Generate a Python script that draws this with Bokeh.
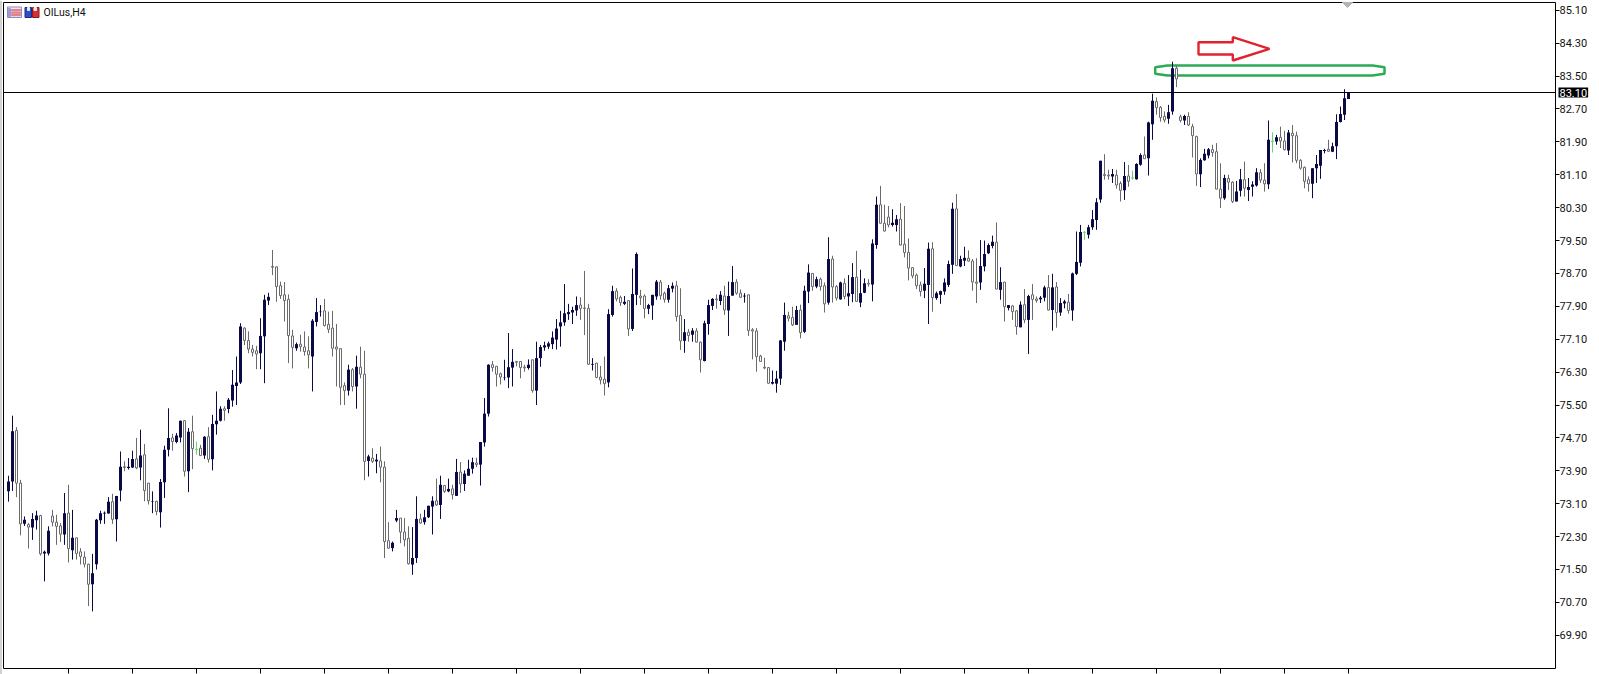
from bokeh.plotting import figure
from bokeh.embed import file_html
from bokeh.resources import INLINE
from bokeh.models import ColumnDataSource, Range1d, FixedTicker, Label, NumeralTickFormatter

symbol_label = "OILus,H4"
last_price = 83.10
price_ticks = [85.10, 84.30, 83.50, 82.70, 81.90, 81.10, 80.30, 79.50, 78.70, 77.90, 77.10, 76.30,
               75.50, 74.70, 73.90, 73.10, 72.30, 71.50, 70.70, 69.90]

opens = [
73.40,73.64,74.88,73.60,72.61,72.59,72.52,72.70,72.81,71.89,71.89,72.80,72.65,72.56,72.35,72.87,
71.97,72.27,71.93,71.80,71.63,71.14,71.63,72.70,72.86,72.86,73.15,72.72,73.42,74.00,73.97,73.98,
74.19,73.98,74.29,73.60,73.15,73.16,72.89,73.62,74.41,74.70,74.60,74.71,75.12,73.89,74.85,74.42,
74.45,74.27,74.73,74.18,75.03,75.12,75.41,75.40,75.61,75.96,76.05,77.37,77.07,76.86,76.82,76.76,
77.17,78.04,78.87,78.86,78.40,78.18,78.07,77.18,76.88,76.98,76.91,76.82,76.68,77.52,77.76,77.79,
77.46,77.37,76.91,76.87,75.97,75.85,76.36,75.95,76.42,76.25,74.14,74.21,74.13,74.14,73.99,72.20,
72.02,72.69,72.75,72.41,72.26,71.62,71.78,72.73,72.65,72.77,73.03,73.17,73.07,73.54,73.40,73.46,
73.29,73.87,73.58,73.78,73.95,74.09,74.05,74.59,75.29,76.48,76.44,76.26,76.17,76.17,76.41,76.56,
76.56,76.42,76.40,76.60,75.85,76.64,76.90,76.92,76.98,77.09,77.41,77.51,77.71,77.75,77.80,77.93,
77.86,77.85,76.48,76.52,76.18,76.13,76.05,77.69,78.27,78.12,77.96,78.04,77.35,78.18,78.15,78.15,
77.84,77.92,78.14,78.49,78.22,78.06,78.33,78.40,77.68,77.06,77.27,77.21,77.30,77.03,76.57,77.47,
77.91,78.08,78.03,78.15,77.80,78.16,78.49,78.22,78.14,78.18,77.33,77.30,76.69,76.42,76.41,76.02,
76.02,76.14,77.04,77.67,77.63,77.45,77.81,77.28,78.26,78.70,78.38,78.56,78.40,77.99,79.05,78.38,
78.07,78.46,78.14,78.20,78.61,77.99,78.23,78.46,78.43,79.39,80.37,79.92,80.07,79.88,79.88,80.02,
79.41,79.21,78.84,78.66,78.42,78.28,78.42,79.30,78.10,78.18,78.26,78.42,78.91,80.27,78.87,79.01,
79.07,79.00,78.49,78.48,78.87,79.19,79.37,79.46,78.30,78.49,77.86,77.91,77.79,77.39,77.94,77.57,
78.18,78.08,78.07,78.11,78.36,77.81,78.37,77.75,77.97,78.00,77.80,78.69,78.96,79.70,79.64,79.82,
80.00,80.50,81.11,81.09,81.06,81.09,80.89,80.72,81.07,81.02,80.99,81.34,81.58,81.50,82.33,82.88,
82.74,82.52,82.46,82.64,83.69,82.51,82.42,82.52,82.27,82.03,81.11,81.45,81.57,81.71,81.66,80.75,
80.53,81.01,80.92,80.45,80.71,80.98,80.73,80.81,80.84,81.15,80.97,80.87,81.91,81.91,82.01,81.92,
81.69,82.11,82.05,81.45,81.28,80.98,80.88,81.26,81.32,81.68,81.72,81.66,81.79,82.38,82.56,82.94]

highs = [
73.78,75.24,74.96,73.68,72.79,72.63,72.87,72.93,72.83,71.96,72.55,72.95,72.83,72.63,73.36,73.56,
72.95,72.27,72.02,71.94,71.64,71.88,72.73,72.93,72.91,73.26,73.34,73.29,74.37,74.13,74.21,74.39,
74.70,74.90,74.55,73.60,73.40,73.17,73.70,74.51,75.42,74.80,74.82,75.12,75.12,74.94,75.24,74.61,
74.53,74.74,74.96,75.26,75.83,75.47,75.47,75.67,76.35,76.68,77.49,77.39,77.29,76.96,76.94,77.61,
78.18,78.23,79.27,78.87,78.50,78.49,78.19,77.33,77.02,77.21,77.29,77.17,77.59,78.10,77.93,78.08,
77.77,77.79,77.47,76.88,76.05,76.48,76.40,76.70,76.92,76.82,74.29,74.45,74.31,74.49,74.13,72.65,
72.18,72.95,72.75,72.75,72.55,72.53,73.28,72.86,72.95,73.05,73.28,73.71,73.78,73.56,73.71,73.56,
74.19,74.11,73.91,74.17,74.22,74.22,74.60,75.67,76.49,76.57,76.45,76.29,76.60,77.25,76.86,76.57,
76.57,76.48,76.61,76.60,77.04,76.96,77.04,77.04,77.29,77.59,77.79,78.44,77.96,77.89,78.14,78.12,
78.76,77.96,76.64,76.52,76.45,76.68,77.83,78.40,78.34,78.16,78.15,78.04,78.82,79.21,78.30,78.19,
77.96,78.18,78.54,78.54,78.26,78.42,78.48,78.52,78.34,77.59,77.35,77.37,77.37,77.04,77.55,78.06,
78.10,78.19,78.27,78.40,78.50,78.88,78.56,78.31,78.22,78.18,77.37,77.37,76.72,76.65,76.42,76.34,
76.33,77.08,77.99,77.77,77.89,77.91,77.94,78.40,78.92,78.70,78.62,78.60,78.48,79.58,79.13,78.42,
78.50,78.58,78.66,78.95,79.25,78.79,78.58,78.56,79.53,80.57,80.83,80.37,80.34,80.26,80.12,80.41,
80.34,79.55,78.85,78.70,78.50,78.83,79.45,79.46,78.26,78.28,78.58,79.01,80.42,80.63,79.13,79.35,
79.26,79.05,79.07,79.51,79.50,79.43,79.62,79.94,78.85,78.49,77.93,77.93,77.81,78.02,78.32,78.18,
78.44,78.14,78.15,78.40,78.66,78.69,78.49,78.10,78.06,78.20,78.72,79.72,79.88,79.73,79.88,80.24,
80.53,81.44,81.60,81.22,81.24,81.22,80.94,81.41,81.34,81.20,81.38,81.62,82.03,82.39,83.07,82.98,
82.77,82.64,82.80,83.85,83.75,82.56,82.56,82.62,82.34,82.05,81.50,81.73,81.75,81.83,81.87,81.38,
81.10,81.10,80.94,80.95,81.24,81.42,81.02,80.94,81.26,81.24,81.38,82.42,82.13,82.07,82.27,82.17,
82.19,82.31,82.15,81.48,81.30,81.06,81.26,81.58,81.70,81.73,81.95,81.88,82.57,82.76,83.18,83.10]

lows = [
73.15,73.41,73.26,72.33,72.56,72.01,72.22,72.47,71.84,71.21,71.84,72.55,72.10,72.17,72.10,71.67,
71.74,71.74,71.62,71.55,70.61,70.48,71.50,72.61,72.61,72.86,72.61,72.18,73.16,73.89,73.93,73.97,
73.94,73.67,73.16,73.08,72.87,72.82,72.52,73.24,74.25,74.39,74.57,74.59,73.76,73.38,73.94,74.29,
74.27,74.19,74.10,73.91,74.78,75.10,75.12,75.30,75.46,75.50,76.01,76.96,76.76,76.68,76.37,76.37,
76.03,77.93,78.66,78.01,78.08,77.53,76.52,76.39,76.82,76.80,76.70,76.39,75.83,77.41,77.65,77.41,
77.25,76.68,75.95,75.50,75.50,75.73,75.83,75.41,76.15,73.67,73.76,74.09,73.84,73.62,71.78,72.00,
71.94,72.65,72.14,72.06,71.62,71.37,71.66,72.61,72.59,72.75,72.35,73.05,72.73,73.36,73.38,73.20,
73.29,73.36,73.41,73.78,73.83,73.99,73.54,74.49,75.22,76.31,75.95,76.00,76.10,75.91,75.95,76.44,
76.15,76.31,76.36,75.80,75.50,76.43,76.82,76.86,76.86,76.85,76.92,77.43,77.57,77.47,77.67,77.57,
77.20,76.48,76.34,76.15,76.00,75.73,75.93,77.65,78.02,77.91,77.93,77.18,77.30,77.93,77.93,77.61,
77.71,77.57,78.06,78.06,77.99,77.99,78.24,77.53,76.84,76.77,77.04,77.04,77.02,76.29,76.56,77.21,
77.81,77.84,77.93,77.69,77.18,78.16,78.18,78.10,77.99,77.18,76.61,76.31,76.56,76.37,76.02,76.00,
75.80,75.99,76.82,77.53,77.42,77.45,77.12,77.25,77.98,78.28,78.34,78.28,77.75,77.94,77.99,78.04,
78.06,78.07,77.91,78.00,78.02,77.88,78.22,78.38,78.02,79.30,79.92,79.72,79.82,79.84,79.72,79.38,
79.09,78.53,78.58,78.32,78.14,78.10,77.47,77.77,78.06,77.96,78.18,78.37,78.69,78.88,78.85,78.88,
78.99,78.28,77.98,78.30,78.75,79.17,79.31,78.32,78.06,77.53,77.80,77.57,77.21,77.39,77.49,76.74,
77.57,77.99,77.98,78.02,77.80,77.31,77.38,77.67,77.85,77.72,77.55,78.66,78.87,79.51,79.55,79.76,
79.76,80.42,80.98,80.98,80.90,80.76,80.45,80.49,80.81,80.98,80.98,81.32,81.50,81.08,81.95,82.56,
82.39,82.37,82.34,82.56,83.23,82.37,82.31,82.29,81.52,80.83,80.80,81.44,81.50,81.54,80.75,80.29,
80.49,80.73,80.41,80.45,80.57,80.57,80.46,80.57,80.81,80.90,80.69,80.75,81.64,81.83,81.75,81.69,
81.58,81.40,81.38,81.22,80.77,80.69,80.53,80.90,81.00,81.62,81.66,81.65,81.48,82.37,82.43,82.94]

closes = [
73.64,74.86,73.60,72.61,72.71,72.53,72.73,72.81,71.88,71.93,72.44,72.65,72.55,72.36,72.87,72.01,
72.27,71.89,71.82,71.63,71.14,71.41,72.71,72.87,72.88,73.15,72.72,73.29,74.00,73.98,74.00,74.19,
73.97,74.27,73.42,73.17,73.16,72.91,73.63,74.41,74.70,74.61,74.76,75.12,73.89,74.85,74.44,74.42,
74.27,74.73,74.18,75.04,75.12,75.41,75.37,75.63,75.99,76.05,77.41,77.07,76.86,76.78,76.74,77.18,
78.06,78.13,78.85,78.38,78.16,78.04,77.19,76.90,76.98,76.92,76.80,76.72,77.55,77.76,77.77,77.43,
77.34,76.88,76.86,75.93,75.85,76.36,75.95,76.43,76.25,74.13,74.25,74.13,74.17,73.99,72.18,72.02,
72.15,72.75,72.41,72.22,71.64,71.78,72.73,72.63,72.77,73.05,73.17,73.07,73.56,73.40,73.46,73.32,
73.87,73.58,73.83,73.95,74.11,74.05,74.60,75.29,76.48,76.41,76.25,76.18,76.18,76.42,76.55,76.54,
76.41,76.40,76.48,75.85,76.64,76.91,76.95,77.00,77.14,77.36,77.51,77.73,77.76,77.81,77.93,77.85,
77.85,76.49,76.50,76.17,76.11,76.02,77.71,78.27,78.08,77.99,78.01,77.35,78.20,79.17,78.11,77.85,
77.93,78.18,78.50,78.16,78.07,78.34,78.40,77.65,77.06,77.27,77.19,77.31,77.03,76.60,77.49,77.93,
78.08,78.06,78.18,77.81,78.15,78.49,78.22,78.12,78.16,77.31,77.30,76.68,76.56,76.40,76.03,76.06,
76.14,77.07,77.69,77.61,77.45,77.81,77.26,78.28,78.72,78.38,78.56,78.38,77.96,79.05,78.37,78.10,
78.48,78.14,78.22,78.61,78.02,78.22,78.46,78.44,79.43,80.37,79.92,79.73,79.88,79.93,80.02,79.39,
79.21,78.83,78.64,78.40,78.26,78.45,79.30,78.11,78.22,78.27,78.48,78.93,80.27,78.89,79.05,79.08,
79.00,78.49,78.46,78.88,79.17,79.39,79.47,78.32,78.49,77.89,77.93,77.77,77.41,77.94,77.57,78.15,
78.07,78.04,78.11,78.36,77.81,78.36,77.75,77.98,78.02,77.80,78.70,78.98,79.71,79.70,79.82,80.02,
80.43,81.44,81.08,81.07,81.12,80.85,80.72,81.07,80.94,81.02,81.36,81.58,81.49,82.37,82.90,82.73,
82.49,82.43,82.62,83.69,83.43,82.42,82.53,82.31,82.05,81.12,81.46,81.61,81.72,81.64,80.75,80.53,
81.02,80.92,80.45,80.69,80.99,80.77,80.80,80.86,81.16,80.97,80.88,81.95,81.91,82.01,81.92,81.71,
82.13,82.05,81.45,81.26,80.94,80.88,81.26,81.36,81.70,81.70,81.67,81.79,82.38,82.58,82.96,83.10]

n = min(len(opens), len(highs), len(lows), len(closes))
opens, highs, lows, closes = opens[:n], highs[:n], lows[:n], closes[:n]
positions = list(range(n))

W, H = 1599, 674
LEFT, RIGHT, TOP, BOTTOM = 3, 1555, 2, 668   # chart box, canvas pixels
PX_PER_BAR = 4.0
PX_PER_USD = 41.12
x0 = -2.0
x1 = x0 + W / PX_PER_BAR
y1 = last_price + 92.0 / PX_PER_USD
y0 = y1 - H / PX_PER_USD


def CX(px):
    return x0 + px / PX_PER_BAR


def X(px):
    return CX(px - 1)


def Y(py):
    return y1 - py / PX_PER_USD


p = figure(width=W, height=H, output_backend="svg", toolbar_location=None,
           x_range=Range1d(x0, x1), y_range=Range1d(y0, y1), y_axis_location="right",
           min_border_left=0, min_border_right=0, min_border_top=0, min_border_bottom=0,
           background_fill_color="white", border_fill_color="white")
p.grid.visible = False
p.outline_line_color = None

ax = p.yaxis[0]
ax.fixed_location = CX(RIGHT)
ax.bounds = (Y(BOTTOM), Y(TOP))
ax.ticker = FixedTicker(ticks=price_ticks)
ax.formatter = NumeralTickFormatter(format="0.00")
ax.major_tick_in = 0
ax.major_tick_out = 4
ax.minor_tick_in = 0
ax.minor_tick_out = 0
ax.axis_line_color = "black"
ax.major_tick_line_color = "black"
ax.major_label_text_font = "Roboto"
ax.major_label_text_font_size = "11px"
ax.major_label_text_color = "#111111"
ax.major_label_standoff = 0

bx = p.xaxis[0]
bar_ticks = list(range(15, n, 16))
bx.fixed_location = Y(BOTTOM)
bx.bounds = (CX(LEFT), CX(RIGHT))
bx.ticker = FixedTicker(ticks=bar_ticks)
bx.major_label_overrides = {t: "" for t in bar_ticks}
bx.major_tick_in = 0
bx.major_tick_out = 5
bx.minor_tick_in = 0
bx.minor_tick_out = 0
bx.major_label_standoff = 0
bx.major_label_text_font_size = "1px"
bx.axis_line_color = "black"
bx.major_tick_line_color = "black"

# window edge and chart box
p.quad(left=[CX(-1)], right=[CX(1)], top=[Y(0)], bottom=[Y(H)], fill_color="#a6a6a6", line_color=None)
p.segment([CX(LEFT), CX(LEFT)], [Y(TOP), Y(TOP)], [CX(RIGHT), CX(LEFT)], [Y(TOP), Y(BOTTOM)],
          line_color="black", line_width=1)

# green hand-drawn marker, behind candles
mx = [1155.7, 1168, 1373, 1385, 1385, 1373, 1168, 1155.7]
my = [66.7, 65, 65, 66.7, 73.3, 75, 75, 73.3]
p.patch([X(v) for v in mx], [Y(v) for v in my], fill_alpha=0, line_color="#2daa55", line_width=2.5)

UP, DOWN, DOJI = "#0a0a46", "#6a6a6a", "#5fd873"
kinds = [UP if c > o else (DOWN if c < o else DOJI) for o, c in zip(opens, closes)]
src = ColumnDataSource(dict(x=positions, o=opens, h=highs, l=lows, c=closes, color=kinds))
p.segment("x", "h", "x", "l", source=src, line_color="color", line_width=1)

up = [i for i in positions if closes[i] > opens[i]]
down = [i for i in positions if closes[i] < opens[i]]
doji = [i for i in positions if closes[i] == opens[i]]
p.vbar(x=up, width=0.75, top=[closes[i] for i in up], bottom=[opens[i] for i in up],
       fill_color=UP, line_color=None)
p.vbar(x=down, width=0.5, top=[opens[i] for i in down], bottom=[closes[i] for i in down],
       fill_color="white", line_color=DOWN, line_width=1)
p.segment([i - 0.375 for i in doji], [opens[i] for i in doji], [i + 0.375 for i in doji], [closes[i] for i in doji],
          line_color=DOJI, line_width=1)

# red arrow
ax_ = [1199, 1233.3, 1233.3, 1270, 1233.3, 1233.3, 1199]
ay_ = [41.7, 41.7, 36.7, 48.3, 60, 54, 54]
p.patch([X(v) for v in ax_], [Y(v) for v in ay_], fill_alpha=0, line_color="#e0232e", line_width=2.4)

# chart-shift marker
tx = [1343, 1353, 1348]
ty = [2, 2, 7]
p.patch([X(v) for v in tx], [Y(v) for v in ty], fill_color="#b4b4b4", line_color="#b4b4b4", line_width=1)

# bid line
p.segment([CX(LEFT)], [last_price], [CX(RIGHT)], [last_price], line_color="black", line_width=1)

# icons in the chart title
def rect(l, r, t, b, fill, line=None):
    p.quad(left=[X(l)], right=[X(r)], top=[Y(t)], bottom=[Y(b)], fill_color=fill,
           line_color=line if line else fill, line_width=1)

rect(8, 22, 6.5, 17, "#f4e4ea", "#8d8dc4")
rect(9, 11, 8, 16, "#9a9ad6")
for yy in (9, 11.5, 14):
    rect(12, 21, yy, yy + 1.2, "#e0808c")
rect(25.5, 32, 7, 17, "#2a50c8", "#1c2a80")
rect(33, 39.5, 7, 17, "#d83030", "#802020")
rect(28, 30, 7, 10, "#e8e8f8")
rect(34.5, 37, 7, 10, "#f8e8e8")

p.add_layout(Label(x=43, y=Y(12), x_units="screen", y_units="data", text=symbol_label, text_font="Roboto",
                   text_font_size="10.5px", text_color="#111111", text_baseline="middle"))
p.add_layout(Label(x=1558, y=last_price, x_units="screen", y_units="data", text="%.2f" % last_price,
                   text_font="Roboto", text_font_size="11px", text_color="white", text_baseline="middle",
                   background_fill_color="black", background_fill_alpha=1, padding=1))

open("out.html", "w").write(file_html(p, INLINE))
